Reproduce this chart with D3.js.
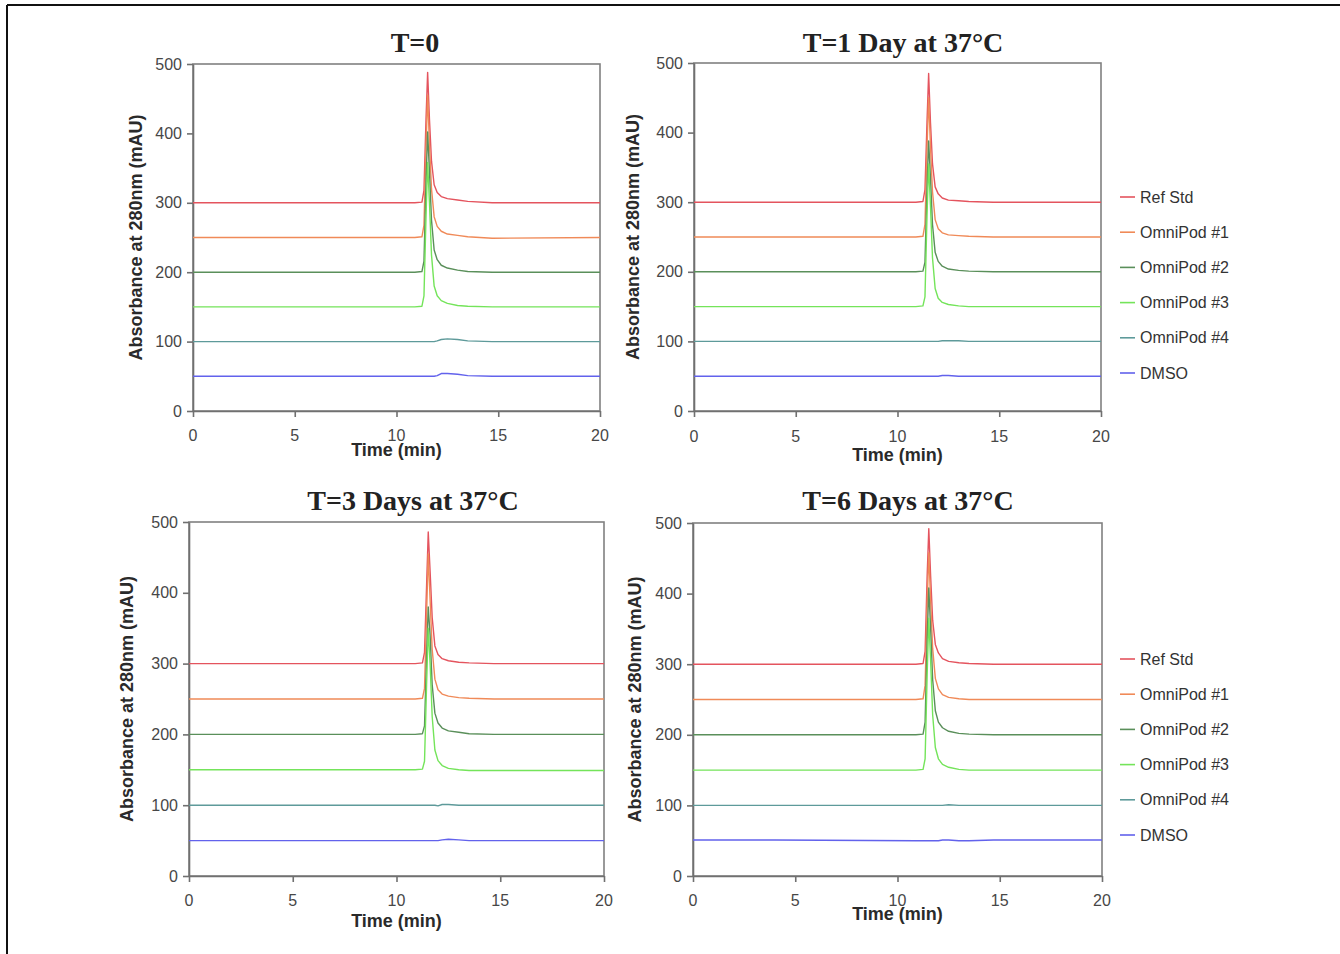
<!DOCTYPE html>
<html lang="en">
<head>
    <meta charset="UTF-8">
    <title>HPLC stability chromatograms</title>
    <script src="https://d3js.org/d3.v7.min.js"></script>
    <style>
        body {
            margin: 0;
            background: #fff;
        }

        .tick-label {
            font: 16px "Liberation Sans", Arial, sans-serif;
            fill: #474747;
        }

        .axis-title {
            font: bold 18px "Liberation Sans", Arial, sans-serif;
            fill: #2a2a2a;
        }

        .panel-title {
            font: bold 28px "Liberation Serif", "Times New Roman", serif;
            fill: #222;
        }

        .legend-label {
            font: 16px "Liberation Sans", Arial, sans-serif;
            fill: #333;
        }
    </style>
</head>
<body>
    <div id="chart"></div>

    <script>
        // Retention time (min) sample points shared by all traces
        const times = [0, 4, 10.9, 11.25, 11.35, 11.45, 11.53, 11.62, 11.72, 11.85, 12.0, 12.2, 12.5, 13.0, 13.5, 14.7, 20];

        const seriesNames = ["Ref Std", "OmniPod #1", "OmniPod #2", "OmniPod #3", "OmniPod #4", "DMSO"];
        const seriesColors = ["#e4545e", "#f08a58", "#5a8f5a", "#74e45a", "#5e9a9a", "#6262ec"];

        const xTicks = [0, 5, 10, 15, 20];
        const yTicks = [0, 100, 200, 300, 400, 500];

        const titles = ["T=0", "T=1 Day at 37°C", "T=3 Days at 37°C", "T=6 Days at 37°C"];

        // Absorbance (mAU, offset traces) per panel, one row per series
        const panelT0 = [
            [300, 300, 300, 301, 318, 420, 488, 420, 360, 326, 315, 309, 306, 304, 302, 300, 300],
            [250, 250, 250, 251, 268, 380, 455, 385, 320, 280, 266, 259, 255, 253, 251, 249, 250],
            [200, 200, 200, 201, 216, 330, 402, 345, 275, 232, 218, 210, 206, 203, 201, 200, 200],
            [150, 150, 150, 151, 166, 280, 358, 300, 225, 180, 166, 159, 155, 152, 151, 150, 150],
            [100, 100, 100, 100, 100, 100, 100, 100, 100, 100, 101, 103, 104, 103, 101, 100, 100],
            [50, 50, 50, 50, 50, 50, 50, 50, 50, 50, 51, 54, 54, 53, 51, 50, 50]
        ];
        const panelT1 = [
            [300, 300, 300, 301, 318, 415, 485, 415, 355, 322, 312, 306, 303, 302, 301, 300, 300],
            [250, 250, 250, 251, 268, 378, 450, 380, 315, 275, 262, 256, 253, 252, 251, 250, 250],
            [200, 200, 200, 201, 214, 320, 388, 335, 268, 228, 215, 208, 204, 202, 201, 200, 200],
            [150, 150, 150, 151, 164, 280, 355, 295, 220, 176, 162, 156, 153, 151, 150, 150, 150],
            [100, 100, 100, 100, 100, 100, 100, 100, 100, 100, 100, 101, 101, 101, 100, 100, 100],
            [50, 50, 50, 50, 50, 50, 50, 50, 50, 50, 50, 51, 51, 50, 50, 50, 50]
        ];
        const panelT3 = [
            [300, 300, 300, 301, 316, 410, 486, 430, 365, 325, 313, 307, 304, 302, 301, 300, 300],
            [250, 250, 250, 251, 265, 370, 455, 390, 320, 278, 263, 257, 254, 252, 251, 250, 250],
            [200, 200, 200, 201, 212, 310, 380, 340, 270, 230, 216, 209, 205, 203, 201, 200, 200],
            [150, 150, 150, 151, 162, 270, 350, 300, 225, 178, 163, 156, 152, 150, 149, 149, 149],
            [100, 100, 100, 100, 100, 100, 100, 100, 100, 100, 99, 101, 101, 100, 100, 100, 100],
            [50, 50, 50, 50, 50, 50, 50, 50, 50, 50, 50, 51, 52, 51, 50, 50, 50]
        ];
        const panelT6 = [
            [300, 300, 300, 301, 318, 425, 492, 425, 362, 328, 316, 308, 304, 302, 301, 300, 300],
            [250, 250, 250, 251, 270, 385, 458, 390, 322, 280, 265, 257, 253, 251, 250, 250, 250],
            [200, 200, 200, 201, 218, 335, 408, 350, 278, 234, 218, 210, 205, 202, 201, 200, 200],
            [150, 150, 150, 151, 166, 285, 365, 305, 228, 182, 166, 158, 154, 151, 150, 150, 150],
            [100, 100, 100, 100, 100, 100, 100, 100, 100, 100, 100, 100, 101, 100, 100, 100, 100],
            [51, 51, 50, 50, 50, 50, 50, 50, 50, 50, 50, 51, 51, 50, 50, 51, 51]
        ];

        const width = 1340, height = 954;

        const svg = d3.select("#chart").append("svg")
            .attr("width", width)
            .attr("height", height);

        // page frame (top and left edges only, as in the scan)
        svg.append("line")
            .attr("x1", 7).attr("x2", width).attr("y1", 5).attr("y2", 5)
            .attr("stroke", "#111").attr("stroke-width", 2);
        svg.append("line")
            .attr("x1", 7).attr("x2", 7).attr("y1", 5).attr("y2", height)
            .attr("stroke", "#111").attr("stroke-width", 2);

        const panels = [
            { title: titles[0], data: panelT0, x0: 193, x1: 600, y0: 64, y1: 411, titleX: 415, titleY: 42, tickY: 435, xLabelY: 450, yLabelX: 136, legendTop: null },
            { title: titles[1], data: panelT1, x0: 694, x1: 1101, y0: 63, y1: 411, titleX: 903, titleY: 42, tickY: 436, xLabelY: 455, yLabelX: 633, legendTop: 197 },
            { title: titles[2], data: panelT3, x0: 189, x1: 604, y0: 522, y1: 876, titleX: 413, titleY: 500, tickY: 900, xLabelY: 921, yLabelX: 127, legendTop: null },
            { title: titles[3], data: panelT6, x0: 693, x1: 1102, y0: 523, y1: 876, titleX: 908, titleY: 500, tickY: 900, xLabelY: 914, yLabelX: 635, legendTop: 659 }
        ];

        panels.forEach(p => drawPanel(p));

        function drawPanel(p) {
            const x = d3.scaleLinear().domain([0, 20]).range([p.x0, p.x1]);
            const y = d3.scaleLinear().domain([0, 500]).range([p.y1, p.y0]);
            const g = svg.append("g");

            // plot frame
            g.append("rect")
                .attr("x", p.x0).attr("y", p.y0)
                .attr("width", p.x1 - p.x0).attr("height", p.y1 - p.y0)
                .attr("fill", "none")
                .attr("stroke", "#808080")
                .attr("stroke-width", 1.6);

            // axes
            const xAxis = d3.axisBottom(x).tickValues(xTicks).tickSize(6).tickSizeOuter(0).tickFormat("");
            const yAxis = d3.axisLeft(y).tickValues(yTicks).tickSize(6).tickSizeOuter(0).tickFormat("");

            g.append("g")
                .attr("transform", `translate(0,${p.y1})`)
                .call(xAxis)
                .call(a => a.select(".domain").attr("stroke", "#707070").attr("stroke-width", 1.6))
                .call(a => a.selectAll(".tick line").attr("stroke", "#707070").attr("stroke-width", 1.6));

            g.append("g")
                .attr("transform", `translate(${p.x0},0)`)
                .call(yAxis)
                .call(a => a.select(".domain").attr("stroke", "#707070").attr("stroke-width", 1.6))
                .call(a => a.selectAll(".tick line").attr("stroke", "#707070").attr("stroke-width", 1.6));

            g.selectAll(".xtick")
                .data(xTicks)
                .enter().append("text")
                .attr("class", "tick-label")
                .attr("x", d => x(d))
                .attr("y", p.tickY)
                .attr("text-anchor", "middle")
                .attr("dominant-baseline", "central")
                .text(d => d);

            g.selectAll(".ytick")
                .data(yTicks)
                .enter().append("text")
                .attr("class", "tick-label")
                .attr("x", p.x0 - 11)
                .attr("y", d => y(d))
                .attr("text-anchor", "end")
                .attr("dominant-baseline", "central")
                .text(d => d);

            // traces
            const line = d3.line()
                .x((d, i) => x(times[i]))
                .y(d => y(d));

            g.selectAll(".trace")
                .data(p.data)
                .enter().append("path")
                .attr("class", "trace")
                .attr("d", d => line(d))
                .attr("fill", "none")
                .attr("stroke", (d, i) => seriesColors[i])
                .attr("stroke-width", 1.4)
                .attr("stroke-linejoin", "round");

            // titles
            g.append("text")
                .attr("class", "panel-title")
                .attr("x", p.titleX)
                .attr("y", p.titleY)
                .attr("text-anchor", "middle")
                .attr("dominant-baseline", "central")
                .text(p.title);

            g.append("text")
                .attr("class", "axis-title")
                .attr("x", (p.x0 + p.x1) / 2)
                .attr("y", p.xLabelY)
                .attr("text-anchor", "middle")
                .attr("dominant-baseline", "central")
                .text("Time (min)");

            g.append("text")
                .attr("class", "axis-title")
                .attr("transform", `translate(${p.yLabelX},${(p.y0 + p.y1) / 2}) rotate(-90)`)
                .attr("text-anchor", "middle")
                .attr("dominant-baseline", "central")
                .text("Absorbance at 280nm (mAU)");

            if (p.legendTop !== null) {
                const items = g.selectAll(".legend")
                    .data(seriesNames)
                    .enter().append("g")
                    .attr("transform", (d, i) => `translate(1120,${p.legendTop + i * 35.2})`);

                items.append("line")
                    .attr("x1", 0).attr("x2", 15)
                    .attr("stroke", (d, i) => seriesColors[i])
                    .attr("stroke-width", 1.6);

                items.append("text")
                    .attr("class", "legend-label")
                    .attr("x", 20)
                    .attr("dominant-baseline", "central")
                    .text(d => d);
            }
        }
    </script>
</body>
</html>
